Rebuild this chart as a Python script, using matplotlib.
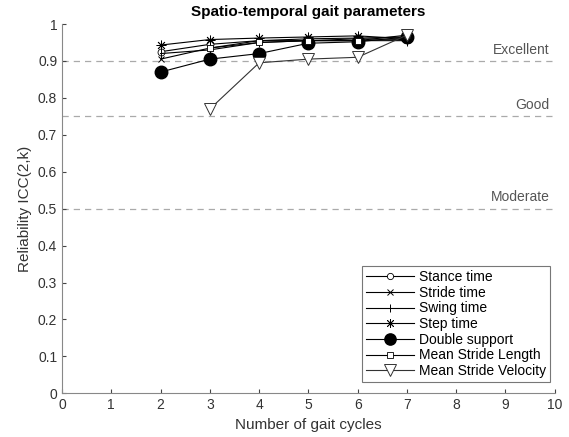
import numpy as np
import matplotlib
matplotlib.use("Agg")
import matplotlib.pyplot as plt

plt.rcParams['font.family'] = ['Liberation Sans', 'DejaVu Sans']

# ICC(2,k) per number of gait cycles
cycles = [2, 3, 4, 5, 6, 7]
stance_time = [0.925, 0.945, 0.955, 0.960, 0.962, 0.965]
stride_time = [0.905, 0.935, 0.955, 0.955, 0.960, 0.958]
swing_time = [0.920, 0.930, 0.950, 0.955, 0.955, 0.955]
step_time = [0.943, 0.958, 0.962, 0.965, 0.968, 0.960]
double_support = [0.870, 0.905, 0.920, 0.948, 0.952, 0.965]

cycles_b = [3, 4, 5, 6, 7]
stride_length = [0.935, 0.950, 0.955, 0.955, 0.970]
stride_velocity = [0.770, 0.895, 0.905, 0.910, 0.970]

thresholds = [0.9, 0.75, 0.5]
threshold_names = ['Excellent', 'Good', 'Moderate']

fig = plt.figure(figsize=(5.69, 4.37), dpi=100)
ax = fig.add_axes([0.109, 0.100, 0.866, 0.845])

for t, name in zip(thresholds, threshold_names):
    ax.axhline(t, color='#aaaaaa', linestyle='--', linewidth=0.9, dashes=(5, 4), zorder=1)
    ax.text(9.9, t + 0.012, name, ha='right', va='bottom', color='#555555', fontsize=10)

lw = 0.8
ax.plot(cycles, stance_time, '-o', color='k', lw=lw, ms=5, mfc='white', mew=0.6, label='Stance time')
ax.plot(cycles, stride_time, '-x', color='k', lw=lw, ms=5, mew=0.7, label='Stride time')
ax.plot(cycles, swing_time, '-|', color='k', lw=lw, ms=7, mew=0.7, label='Swing time')
ax.plot(cycles, step_time, '-', marker=(8, 2, 0), color='k', lw=lw, ms=7, mew=0.6, label='Step time')
ax.plot(cycles, double_support, '-o', color='k', lw=lw, ms=9, mfc='k', label='Double support')
ax.plot(cycles_b, stride_length, '-s', color='k', lw=lw, ms=4.5, mfc='white', mew=0.6, label='Mean Stride Length')
ax.plot(cycles_b, stride_velocity, '-v', color='#333333', lw=lw, ms=9, mfc='white', mew=0.7, label='Mean Stride Velocity')

ax.set_xlim(0, 10)
ax.set_ylim(0, 1)
ax.set_xticks(range(0, 11))
ax.set_yticks(np.arange(0, 1.01, 0.1))
ax.set_yticklabels(['0', '0.1', '0.2', '0.3', '0.4', '0.5', '0.6', '0.7', '0.8', '0.9', '1'])
ax.tick_params(direction='in', length=3, colors='#444444', labelsize=10, labelcolor='#333333')
for s in ['top', 'right']:
    ax.spines[s].set_visible(False)
for s in ['left', 'bottom']:
    ax.spines[s].set_color('#888888')

ax.set_title('Spatio-temporal gait parameters', fontsize=11, fontweight='bold')
ax.set_xlabel('Number of gait cycles', fontsize=11, color='#333333')
ax.set_ylabel('Reliability ICC(2,k)', fontsize=11, color='#333333')

leg = ax.legend(loc='lower right', bbox_to_anchor=(0.99, 0.03), fontsize=10, frameon=True,
                fancybox=False, edgecolor='#555555', handlelength=3.5, borderpad=0.3,
                labelspacing=0.12, handletextpad=0.3, borderaxespad=0, markerscale=0.9)
leg.get_frame().set_linewidth(0.8)

fig.savefig('out.png', dpi=100)
